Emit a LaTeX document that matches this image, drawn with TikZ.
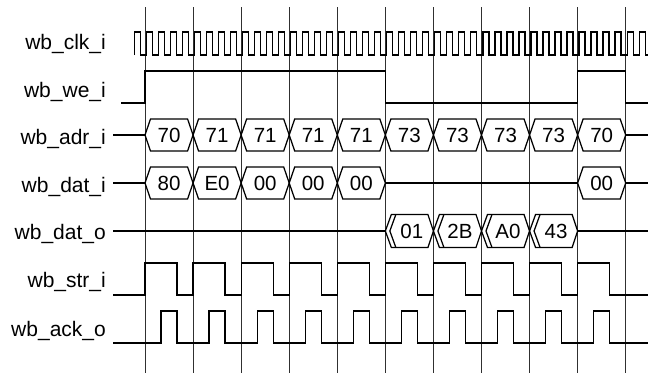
\documentclass[tikz,border=0pt]{standalone}
\usepackage{fontspec}
\setmainfont{Liberation Sans}
\usepackage{xcolor}
\usetikzlibrary{positioning}
\definecolor{waveink}{HTML}{000000}
\definecolor{gridink}{HTML}{303030}

\begin{document}
\begin{tikzpicture}[
  x=1pt,y=-1pt,
  gridline/.style={draw=gridink,line width=.9pt},
  wave/.style={draw=waveink,line width=1.25pt,line join=miter},
  signame/.style={anchor=base east,inner sep=0pt,font=\fontsize{21}{24}\selectfont},
  busval/.style={inner sep=0pt,font=\fontsize{20.5}{24}\selectfont}
]
  \useasboundingbox (0,0) rectangle (648,373);

  % one grid line per bus cycle
  \foreach \i in {0,...,10}
    \draw[gridline] ({145+48.07*\i},7) -- ({145+48.07*\i},373);

  % signal names
  \node[signame] (clk) at (106,49.5) {wb\_clk\_i};
  \node[signame] (we)  at (106,97)   {wb\_we\_i};
  \node[signame] (adr) at (106,144)  {wb\_adr\_i};
  \node[signame] (dati) at (106,192) {wb\_dat\_i};
  \node[signame] (dato) at (106,239) {wb\_dat\_o};
  \node[signame] (str) at (106,287)  {wb\_str\_i};
  \node[signame] (ack) at (106,336)  {wb\_ack\_o};

  % clock, four periods per cycle
  \draw[wave] (134.3,55) \foreach \k in {0,...,42} {
      -- ({134.3+12.02*\k},32) -- ({140.3+12.02*\k},32)
      -- ({140.3+12.02*\k},55) -- ({134.3+12.02*(\k+1)},55) };

  % write enable
  \draw[wave] (121,103) -- (145,103) -- (145,71) -- (385.35,71) -- (385.35,103)
    -- (577.63,103) -- (577.63,71) -- (625.7,71) -- (625.7,103) -- (648,103);

  % address bus
  \draw[wave] (113,135) -- (145,135);
  \foreach \v [count=\i from 0] in {70,71,71,71,71,73,73,73,73,70} {
    \pgfmathsetmacro\xa{145+48.07*\i}
    \pgfmathsetmacro\xb{\xa+48.07}
    \draw[wave] (\xa,135) -- (\xa+5.5,119) -- (\xb-5.5,119) -- (\xb,135)
      -- (\xb-5.5,151) -- (\xa+5.5,151) -- cycle;
    \node[busval] (adr\i) at ({(\xa+\xb)/2},135) {\v};
  }
  \draw[wave] (625.7,135) -- (648,135);

  % data in
  \draw[wave] (113,183) -- (145,183);
  \foreach \i/\v in {0/80,1/E0,2/00,3/00,4/00,9/00} {
    \pgfmathsetmacro\xa{145+48.07*\i}
    \pgfmathsetmacro\xb{\xa+48.07}
    \draw[wave] (\xa,183) -- (\xa+5.5,167) -- (\xb-5.5,167) -- (\xb,183)
      -- (\xb-5.5,199) -- (\xa+5.5,199) -- cycle;
    \node[busval] (dati\i) at ({(\xa+\xb)/2},183) {\v};
  }
  \draw[wave] (385.35,183) -- (577.63,183);
  \draw[wave] (625.7,183) -- (648,183);

  % data out, read back
  \draw[wave] (113,231) -- (385.35,231);
  \foreach \i/\v in {5/01,6/2B,7/A0,8/43} {
    \pgfmathsetmacro\xa{145+48.07*\i}
    \pgfmathsetmacro\xb{\xa+48.07}
    \draw[wave] (\xa,231) -- (\xa+6,214.5) -- (\xb-5.5,214.5) -- (\xb,231)
      -- (\xb-5.5,247.5) -- (\xa+6,247.5) -- cycle;
    \draw[wave] (\xa+10.5,214.5) -- (\xa+4.5,231) -- (\xa+10.5,247.5);
    \node[busval] (dato\i) at ({(\xa+\xb)/2+2.5},231) {\v};
  }
  \draw[wave] (577.63,231) -- (648,231);

  % strobe and acknowledge
  \draw[wave] (113,295) \foreach \i in {0,...,9} {
      -- ({145+48.07*\i},295) -- ({145+48.07*\i},263)
      -- ({177+48.07*\i},263) -- ({177+48.07*\i},295) } -- (648,295);
  \draw[wave] (113,343) \foreach \i in {0,...,9} {
      -- ({161+48.07*\i},343) -- ({161+48.07*\i},311)
      -- ({177+48.07*\i},311) -- ({177+48.07*\i},343) } -- (648,343);
\end{tikzpicture}
\end{document}
